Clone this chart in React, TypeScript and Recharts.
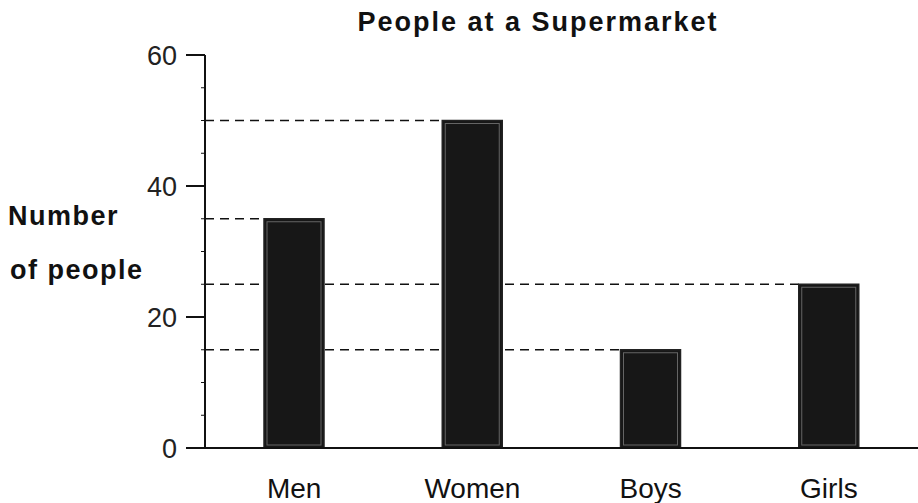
import React from 'react';
import { BarChart, Bar, XAxis, YAxis } from 'recharts';

const categories = ['Men', 'Women', 'Boys', 'Girls'];
const people = [35, 50, 15, 25];
const yTicks = [0, 5, 10, 15, 20, 25, 30, 35, 40, 45, 50, 55, 60];
const labeledTicks = [0, 20, 40, 60];

const data = categories.map((name, i) => ({ name, people: people[i] }));

const WIDTH = 918;
const HEIGHT = 503;
const margin = { top: 55, right: 0, bottom: 0, left: 0 };
const Y_AXIS_W = 205;
const PLOT_LEFT = margin.left + Y_AXIS_W;
const FONT = '"Liberation Sans", Arial, Helvetica, sans-serif';

// dashed guide from the y axis to the left edge of each bar
const GuideLine = (props: any) => {
  const { x, y } = props;
  return (
    <line x1={PLOT_LEFT} x2={x} y1={y} y2={y} stroke="#111" strokeWidth={1.5} strokeDasharray="9 6" />
  );
};

const ScanBar = (props: any) => {
  const { x, y, width, height } = props;
  return (
    <g>
      <rect x={x} y={y} width={width} height={height} fill="#171717" stroke="#222" strokeWidth={1.5} />
      <rect x={x + 3} y={y + 3} width={width - 6} height={height - 6} fill="none" stroke="#999" strokeWidth={1} opacity={0.6} />
    </g>
  );
};

const YTick = (props: any) => {
  const { y, payload } = props;
  const major = labeledTicks.includes(payload.value);
  return (
    <g>
      <line x1={PLOT_LEFT - (major ? 19 : 4)} x2={PLOT_LEFT} y1={y} y2={y} stroke="#111" strokeWidth={major ? 2 : 1} />
      {major && (
        <text x={PLOT_LEFT - 28} y={y} dy="0.36em" textAnchor="end" fontSize={27} fill="#222" fontFamily={FONT}>
          {payload.value}
        </text>
      )}
    </g>
  );
};

const XTick = (props: any) => {
  const { x, y, payload } = props;
  return (
    <text x={x} y={y + 50} textAnchor="middle" fontSize={28} fill="#111" fontFamily={FONT}>
      {payload.value}
    </text>
  );
};

export default function App() {
  return (
    <div style={{ position: 'absolute', left: 0, top: 0, width: WIDTH, height: HEIGHT, background: '#fff', fontFamily: FONT }}>
      <div style={{ position: 'absolute', left: 538, top: 9, transform: 'translateX(-50%)', whiteSpace: 'nowrap', fontSize: 27, lineHeight: '27px', fontWeight: 'bold', letterSpacing: 2, color: '#111' }}>
        People at a Supermarket
      </div>
      <div style={{ position: 'absolute', left: 8, top: 203, fontSize: 27, lineHeight: '27px', fontWeight: 'bold', letterSpacing: 1.5, color: '#111' }}>
        Number
      </div>
      <div style={{ position: 'absolute', left: 10, top: 257, fontSize: 27, lineHeight: '27px', fontWeight: 'bold', letterSpacing: 1.5, color: '#111' }}>
        of people
      </div>
      <BarChart width={WIDTH} height={HEIGHT} data={data} margin={margin} barGap={-60}>
        <XAxis
          dataKey="name"
          height={55}
          axisLine={{ stroke: '#111', strokeWidth: 2 }}
          tickLine={false}
          tickSize={0}
          tickMargin={0}
          tick={<XTick />}
        />
        <YAxis
          width={Y_AXIS_W}
          domain={[0, 60]}
          ticks={yTicks}
          interval={0}
          axisLine={{ stroke: '#111', strokeWidth: 2 }}
          tickLine={false}
          tick={<YTick />}
        />
        <Bar dataKey="people" barSize={60} shape={<GuideLine />} isAnimationActive={false} />
        <Bar dataKey="people" barSize={60} shape={<ScanBar />} isAnimationActive={false} />
      </BarChart>
    </div>
  );
}
